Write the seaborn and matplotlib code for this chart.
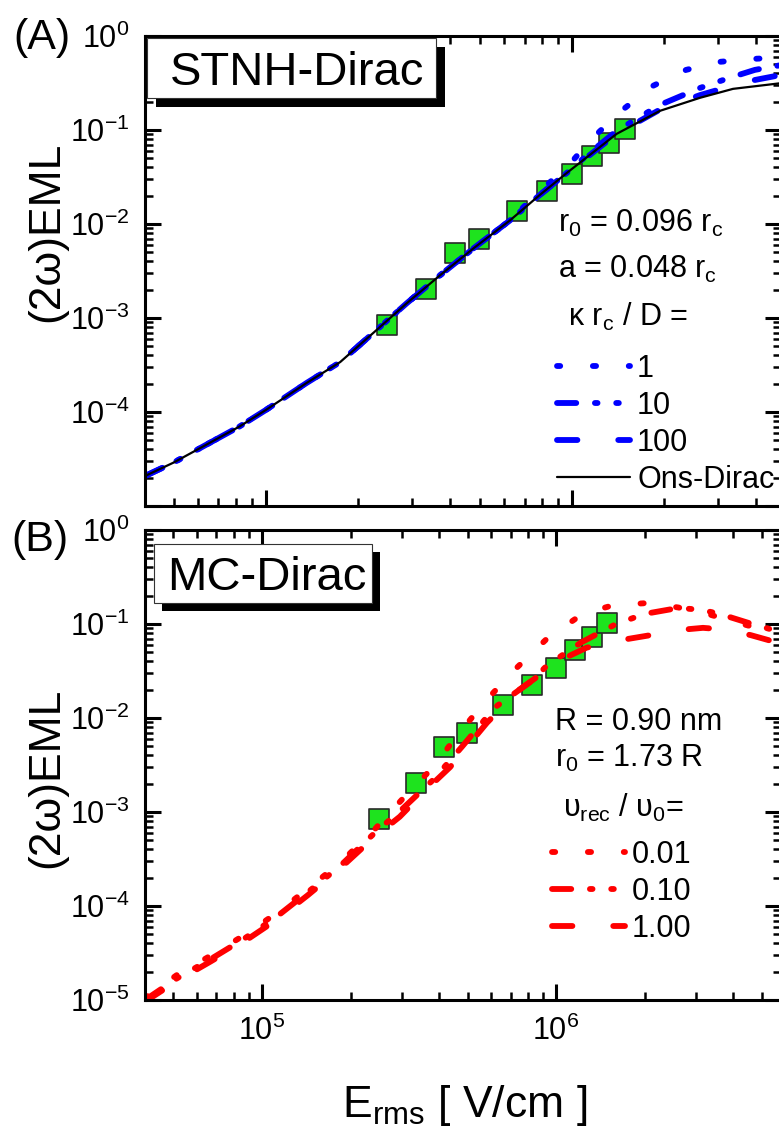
import numpy as np
import matplotlib
matplotlib.use("Agg")
import matplotlib.pyplot as plt
from matplotlib.patches import Rectangle
from matplotlib.ticker import LogLocator, FuncFormatter, NullFormatter
import seaborn as sns

# measured points (same in both panels)
e_exp = [2.49e5, 3.33e5, 4.15e5, 4.97e5, 6.61e5, 8.28e5, 1.00e6, 1.16e6, 1.32e6, 1.49e6]
eml_exp = [8.4e-4, 2.03e-3, 4.9e-3, 6.9e-3, 1.36e-2, 2.27e-2, 3.44e-2, 5.3e-2, 7.3e-2, 0.103]

# (A) STNH-Dirac
x_ons = [4.0e4, 5.0e4, 6.4e4, 8.2e4, 1.0e5, 1.36e5, 1.75e5, 2.24e5, 2.89e5, 3.71e5,
         4.8e5, 6.27e5, 7.8e5, 9.63e5, 1.15e6, 1.40e6, 1.94e6, 2.62e6, 3.36e6, 4.82e6]
y_ons = [2.06e-5, 2.9e-5, 4.5e-5, 7.0e-5, 1.05e-4, 2.04e-4, 3.4e-4, 6.9e-4, 1.44e-3, 2.85e-3,
         5.6e-3, 1.09e-2, 2.0e-2, 3.5e-2, 5.5e-2, 9.1e-2, 0.160, 0.220, 0.274, 0.315]
x_k1 = x_ons[:12] + [7.8e5, 9.63e5, 1.15e6, 1.45e6, 1.84e6, 2.36e6, 3.02e6, 3.87e6, 4.82e6]
y_k1 = y_ons[:12] + [0.022, 0.040, 0.078, 0.16, 0.295, 0.436, 0.53, 0.57, 0.59]
x_k10 = x_ons[:14] + [1.15e6, 1.40e6, 1.94e6, 2.62e6, 3.28e6, 3.96e6, 4.82e6]
y_k10 = y_ons[:14] + [0.058, 0.098, 0.185, 0.28, 0.36, 0.436, 0.49]
x_k100 = x_ons[:16] + [1.94e6, 2.62e6, 3.33e6, 3.82e6, 4.82e6]
y_k100 = y_ons[:16] + [0.165, 0.235, 0.295, 0.333, 0.385]
kappa_labels = ["1", "10", "100"]

# (B) MC-Dirac
x_v001 = [4.0e4, 5.14e4, 6.66e4, 8.61e4, 1.11e5, 1.43e5, 1.84e5, 2.39e5, 3.02e5, 3.82e5,
          4.61e5, 5.74e5, 7.26e5, 9.32e5, 1.23e6, 1.56e6, 2.04e6, 2.6e6, 3.3e6, 4.3e6, 5.8e6]
y_v001 = [1.05e-5, 1.85e-5, 2.94e-5, 4.8e-5, 8.2e-5, 1.52e-4, 2.87e-4, 6.3e-4, 1.4e-3, 3.0e-3,
          6.5e-3, 1.5e-2, 3.3e-2, 7.0e-2, 0.128, 0.158, 0.167, 0.150, 0.127, 0.100, 0.078]
x_v010 = [4.0e4, 5.14e4, 6.66e4, 8.61e4, 1.11e5, 1.43e5, 1.84e5, 2.39e5, 3.02e5, 3.82e5,
          4.8e5, 6.2e5, 8.3e5, 9.3e5, 1.21e6, 1.6e6, 2.0e6, 2.6e6, 3.1e6, 3.6e6, 4.5e6, 5.8e6]
y_v010 = [1.0e-5, 1.7e-5, 2.7e-5, 4.4e-5, 7.5e-5, 1.4e-4, 2.65e-4, 5.8e-4, 1.1e-3, 2.2e-3,
          5.0e-3, 1.3e-2, 2.5e-2, 3.6e-2, 6.3e-2, 0.10, 0.128, 0.148, 0.142, 0.128, 0.103, 0.082]
x_v100 = [4.0e4, 5.14e4, 6.66e4, 8.61e4, 1.11e5, 1.43e5, 1.84e5, 2.39e5, 2.94e5, 3.6e5,
          4.36e5, 5.82e5, 7.5e5, 1.03e6, 1.27e6, 1.69e6, 2.09e6, 2.58e6, 3.16e6, 3.8e6, 4.6e6, 5.8e6]
y_v100 = [9.6e-6, 1.6e-5, 2.55e-5, 4.1e-5, 7.0e-5, 1.3e-4, 2.5e-4, 5.3e-4, 8.9e-4, 1.7e-3,
          3.0e-3, 8.9e-3, 2.0e-2, 4.1e-2, 5.6e-2, 6.8e-2, 7.6e-2, 8.6e-2, 9.1e-2, 8.7e-2, 7.6e-2, 6.2e-2]
v_labels = ["0.01", "0.10", "1.00"]

sns.set_style("ticks")
plt.rcParams["font.family"] = ["Liberation Sans", "DejaVu Sans"]
plt.rcParams["mathtext.fontset"] = "custom"
plt.rcParams["mathtext.rm"] = "Liberation Sans"
plt.rcParams["mathtext.it"] = "Liberation Sans:italic"
plt.rcParams["mathtext.default"] = "regular"
plt.rcParams["text.color"] = "black"
plt.rcParams["axes.edgecolor"] = "black"
plt.rcParams["xtick.color"] = "black"
plt.rcParams["ytick.color"] = "black"

W, H = 779, 1136
fig = plt.figure(figsize=(W / 100, H / 100), dpi=100)


def fx(p):
    return p / W


def fy(p):
    return 1 - p / H


ax_a = fig.add_axes([fx(145), fy(506), (781 - 145) / W, (506 - 36) / H])
ax_b = fig.add_axes([fx(145), fy(1000), (781 - 145) / W, (1000 - 530) / H])

LW = 4.2
dot = (0, (0.55, 5.6))
dashdotdot = (0, (3.3, 3.2, 0.45, 3.2, 0.45, 3.2))
dashed = (0, (3.5, 7.0))
green = "#1ee31e"

for ax in (ax_a, ax_b):
    ax.set_xscale("log")
    ax.set_yscale("log")
    sns.scatterplot(x=e_exp, y=eml_exp, ax=ax, marker="s", s=200, color=green,
                    edgecolor="#2a2a2a", linewidth=1.2, zorder=1.5)

line_kw = dict(lw=LW, sort=False, estimator=None, dash_capstyle="round", solid_capstyle="round")
sns.lineplot(x=x_k1, y=y_k1, ax=ax_a, color="#0000ff", linestyle=dot, label=kappa_labels[0], **line_kw)
sns.lineplot(x=x_k10, y=y_k10, ax=ax_a, color="#0000ff", linestyle=dashdotdot, label=kappa_labels[1], **line_kw)
sns.lineplot(x=x_k100, y=y_k100, ax=ax_a, color="#0000ff", linestyle=dashed, label=kappa_labels[2], **line_kw)
sns.lineplot(x=x_ons, y=y_ons, ax=ax_a, color="k", lw=1.6, sort=False, estimator=None, label="Ons-Dirac")

sns.lineplot(x=x_v001, y=y_v001, ax=ax_b, color="#ff0000", linestyle=dot, label=v_labels[0], **line_kw)
sns.lineplot(x=x_v010, y=y_v010, ax=ax_b, color="#ff0000", linestyle=dashdotdot, label=v_labels[1], **line_kw)
sns.lineplot(x=x_v100, y=y_v100, ax=ax_b, color="#ff0000", linestyle=dashed, label=v_labels[2], **line_kw)

ax_a.set_xlim(4.03e4, 4.82e6)
ax_b.set_xlim(4.0e4, 5.82e6)


def log_fmt(v, pos):
    return "$10^{%d}$" % int(round(np.log10(v)))


def log_fmt_top(v, pos):
    e = int(round(np.log10(v)))
    return "" if e <= -5 else "$10^{%d}$" % e


for ax in (ax_a, ax_b):
    ax.set_ylim(1e-5, 1)
    for axis in (ax.xaxis, ax.yaxis):
        axis.set_major_locator(LogLocator(base=10, numticks=20))
        axis.set_minor_locator(LogLocator(base=10, subs=np.arange(2, 10), numticks=20))
        axis.set_minor_formatter(NullFormatter())
    ax.tick_params(which="both", direction="in", top=True, right=True, labelsize=22)
    ax.tick_params(which="major", length=11.5, width=2.2, pad=11)
    ax.tick_params(which="minor", length=6, width=1.8)
    for sp in ax.spines.values():
        sp.set_linewidth(2.2)
        sp.set_color("black")
    ax.set_xlabel("")
    ax.set_ylabel("")

ax_a.yaxis.set_major_formatter(FuncFormatter(log_fmt_top))
ax_a.xaxis.set_major_formatter(NullFormatter())
ax_b.yaxis.set_major_formatter(FuncFormatter(log_fmt))
ax_b.xaxis.set_major_formatter(FuncFormatter(log_fmt))

leg_kw = dict(loc="upper left", bbox_transform=fig.transFigure, frameon=False, fontsize=22,
              handlelength=2.39, handletextpad=0.23, labelspacing=0.23, borderpad=0, borderaxespad=0)
ax_a.legend(bbox_to_anchor=(fx(557), fy(354)), **leg_kw)
ax_b.legend(bbox_to_anchor=(fx(552), fy(840)), **leg_kw)


def tag_box(x0, y0, x1, y1, off, text, tx, ty):
    fig.add_artist(Rectangle((fx(x0 + off), fy(y1 + off)), (x1 - x0) / W, (y1 - y0) / H,
                             transform=fig.transFigure, facecolor="k", edgecolor="none", zorder=5))
    fig.add_artist(Rectangle((fx(x0), fy(y1)), (x1 - x0) / W, (y1 - y0) / H,
                             transform=fig.transFigure, facecolor="white", edgecolor="#333333",
                             lw=0.8, zorder=6))
    fig.text(fx(tx), fy(ty), text, fontsize=34, va="baseline", ha="left", zorder=7)


tag_box(147, 38, 436, 98, 9, "STNH-Dirac", 170, 85)
tag_box(154, 544, 372, 603, 8, "MC-Dirac", 167, 590)

fs = 22
fig.text(fx(558), fy(232), "r$_0$ = 0.096 r$_c$", fontsize=fs, va="baseline")
fig.text(fx(558), fy(278), "a = 0.048 r$_c$", fontsize=fs, va="baseline")
fig.text(fx(568), fy(326), "κ r$_c$ / D =", fontsize=fs, va="baseline")
fig.text(fx(555), fy(730), "R = 0.90 nm", fontsize=fs, va="baseline")
fig.text(fx(555), fy(767), "r$_0$ = 1.73 R", fontsize=fs, va="baseline")
fig.text(fx(563), fy(817), "υ$_{rec}$ / υ$_0$=", fontsize=fs, va="baseline")

fig.text(fx(13), fy(38), "(A)", fontsize=31, va="center")
fig.text(fx(11), fy(540), "(B)", fontsize=31, va="center")
fig.text(fx(47), fy(232), "(2ω)EML", fontsize=32, rotation=90, ha="center", va="center")
fig.text(fx(47), fy(778), "(2ω)EML", fontsize=32, rotation=90, ha="center", va="center")
fig.text(fx(465), fy(1117), "E$_{rms}$ [ V/cm ]", fontsize=32, ha="center", va="baseline")

fig.savefig("out.png", dpi=100)
